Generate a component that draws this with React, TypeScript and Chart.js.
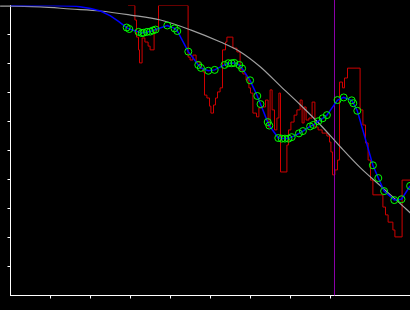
import React, { useEffect, useRef } from "react";
import { Chart, registerables } from "chart.js";

Chart.register(...registerables);

// Reference (smooth) curve
const grayX = [-2.6, 0, 7.5, 15, 22.5, 30, 37.5, 45, 52.5, 57.5, 62.5, 67.5, 72.5, 77.5, 82.5, 87.5, 92.5, 97.5, 100];
const grayY = [9.98, 9.98, 9.95, 9.88, 9.81, 9.67, 9.5, 9.16, 8.74, 8.4, 7.88, 7.22, 6.57, 5.88, 5.12, 4.4, 3.78, 3.16, 2.84];

// Leading part of the blue trace (before first marker)
const blueLeadX = [0, 10, 16.5, 20, 22.5, 25, 27];
const blueLeadY = [10.0, 10.0, 9.97, 9.9, 9.81, 9.64, 9.45];

// Marker points (green circles), also on the blue trace
const circleX = [29.05, 29.7, 32.0, 32.8, 33.25, 34.1, 34.9, 35.6, 36.25, 39.2, 41.0, 41.7, 44.45, 46.95, 47.6, 49.45, 51.05, 53.5, 54.45, 55.3, 55.95, 57.2, 57.9, 59.9, 61.7, 62.5, 64.3, 64.7, 66.95, 67.8, 68.6, 69.5, 70.3, 72.1, 73.1, 74.9, 75.7, 76.95, 78.05, 79.1, 81.75, 83.3, 85.3, 85.7, 86.7, 90.6, 91.95, 93.4, 95.95, 97.75, 99.9];
const circleY = [9.24, 9.19, 9.09, 9.05, 9.06, 9.09, 9.1, 9.14, 9.17, 9.31, 9.21, 9.12, 8.41, 7.95, 7.85, 7.75, 7.78, 7.95, 8.01, 8.01, 8.02, 7.95, 7.83, 7.42, 6.88, 6.6, 5.98, 5.86, 5.43, 5.41, 5.41, 5.41, 5.46, 5.59, 5.67, 5.83, 5.88, 6.01, 6.11, 6.22, 6.74, 6.83, 6.73, 6.63, 6.37, 4.49, 4.05, 3.6, 3.29, 3.32, 3.78];

// Raw noisy step series (red)
const redX = [29.4, 31.1, 31.5, 32.0, 32.25, 32.9, 33.6, 34.4, 34.9, 35.9, 37.0, 44.4, 44.9, 45.6, 46.4, 47.4, 48.1, 48.5, 49.1, 49.75, 50.1, 50.75, 51.25, 51.75, 52.4, 53.0, 53.75, 54.1, 55.6, 56.6, 57.4, 58.1, 58.9, 59.6, 60.0, 60.6, 61.5, 62.1, 62.9, 63.75, 64.4, 64.9, 65.4, 66.0, 66.6, 67.1, 67.5, 69.1, 69.5, 70.1, 70.9, 71.6, 72.4, 72.9, 73.4, 73.9, 74.6, 75.4, 76.1, 76.9, 77.9, 79.1, 79.75, 80.1, 80.5, 81.1, 81.75, 82.25, 83.0, 83.5, 84.25, 87.4, 88.1, 88.75, 89.4, 90.0, 90.6, 93.1, 93.75, 94.4, 95.6, 96.1, 97.9, 99.9];
const redY = [10.0, 9.5, 8.91, 8.47, 8.02, 8.88, 8.74, 8.6, 8.47, 9.16, 10.0, 8.22, 8.12, 8.29, 8.05, 7.84, 7.71, 6.91, 6.81, 6.53, 6.29, 6.57, 6.81, 7.02, 7.16, 8.47, 8.74, 8.91, 8.53, 8.4, 7.78, 7.64, 7.43, 7.16, 6.98, 6.29, 6.16, 6.47, 6.5, 6.74, 5.81, 7.09, 6.4, 5.71, 6.12, 6.98, 4.26, 5.19, 5.71, 5.98, 6.22, 6.4, 6.74, 5.95, 6.5, 6.05, 6.12, 6.67, 5.81, 5.71, 5.6, 5.5, 5.29, 4.95, 4.16, 4.33, 4.67, 7.36, 7.16, 7.5, 7.84, 6.4, 5.88, 5.26, 4.67, 3.98, 3.47, 3.05, 2.78, 2.53, 2.26, 2.02, 3.98, 3.98];

// Vertical marker
const markerX = 81;
const markerSpan = [0, 10.2];

const zip = (xs: number[], ys: number[]) => xs.map((x, i) => ({ x, y: ys[i] }));

export default function App() {
  const ref = useRef<HTMLCanvasElement | null>(null);

  useEffect(() => {
    if (!ref.current) return;
    const circles = zip(circleX, circleY);
    const blue = [...zip(blueLeadX, blueLeadY), ...circles];
    const tickColor = (ctx: any) =>
      ctx.tick && (ctx.tick.value <= 0 || (ctx.tick.value >= 10 && ctx.scale.axis === "y") || ctx.tick.value >= 99.8)
        ? "rgba(0,0,0,0)"
        : "#ffffff";
    const chart = new Chart(ref.current, {
      type: "line",
      data: {
        datasets: [
          {
            data: circles,
            showLine: false,
            pointRadius: 3.5,
            pointBorderColor: "#00ff00",
            pointBackgroundColor: "rgba(0,0,0,0)",
            pointBorderWidth: 1,
            clip: false,
          },
          {
            data: blue,
            borderColor: "#0000ff",
            borderWidth: 1.5,
            pointRadius: 0,
            tension: 0,
          },
          {
            data: zip(grayX, grayY),
            borderColor: "#a0a0a0",
            borderWidth: 1.2,
            pointRadius: 0,
            cubicInterpolationMode: "monotone",
            clip: false,
          },
          {
            data: markerSpan.map((y) => ({ x: markerX, y })),
            borderColor: "#8a00a8",
            borderWidth: 1,
            pointRadius: 0,
            clip: false,
          },
          {
            data: zip(redX, redY),
            borderColor: "#d00000",
            borderWidth: 1,
            pointRadius: 0,
            stepped: "before",
          },
        ],
      },
      options: {
        responsive: false,
        animation: false,
        devicePixelRatio: 1,
        layout: { autoPadding: false, padding: { left: 7.5, top: 5.5, right: 0, bottom: 11.5 } },
        plugins: { legend: { display: false }, tooltip: { enabled: false } },
        scales: {
          x: {
            type: "linear",
            min: 0,
            max: 99.875,
            ticks: { display: false, stepSize: 10 },
            grid: { drawOnChartArea: false, drawTicks: true, tickLength: 3, color: tickColor, lineWidth: 1 },
            border: { display: true, color: "#ffffff", width: 1 },
          },
          y: {
            type: "linear",
            min: 0,
            max: 10,
            ticks: { display: false, stepSize: 1 },
            grid: { drawOnChartArea: false, drawTicks: true, tickLength: 3, color: tickColor, lineWidth: 1 },
            border: { display: true, color: "#ffffff", width: 1 },
          },
        },
      },
    } as any);
    return () => chart.destroy();
  }, []);

  return (
    <div style={{ position: "fixed", left: 0, top: 0, width: 410, height: 310, background: "#000000", overflow: "hidden" }}>
      <canvas ref={ref} width={410} height={310} style={{ display: "block", width: 410, height: 310 }} />
    </div>
  );
}
